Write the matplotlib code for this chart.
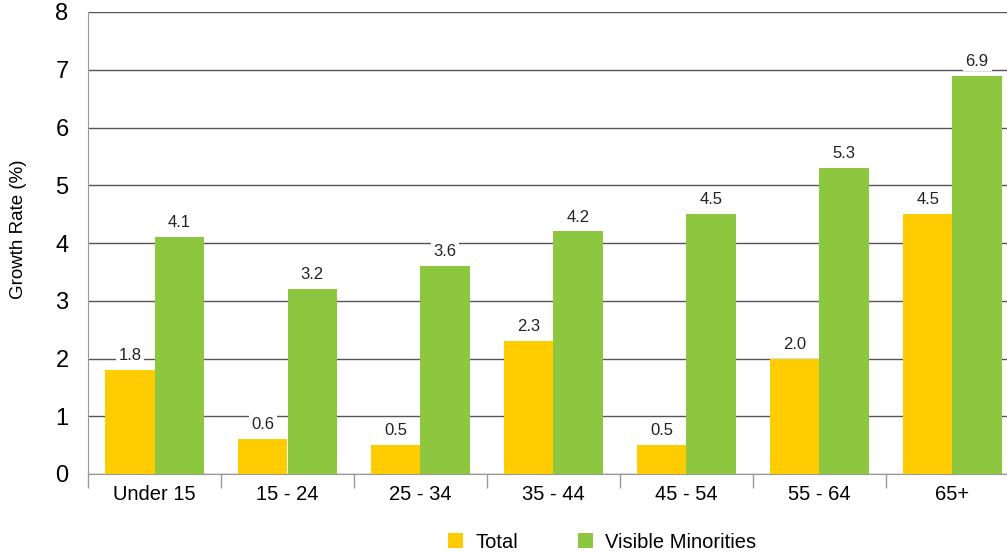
import matplotlib
matplotlib.use("Agg")
import matplotlib.pyplot as plt
import numpy as np

plt.rcParams['font.family'] = ['Liberation Sans', 'DejaVu Sans']

cats = ["Under 15", "15 - 24", "25 - 34", "35 - 44", "45 - 54", "55 - 64", "65+"]
total = [1.8, 0.6, 0.5, 2.3, 0.5, 2.0, 4.5]
vismin = [4.1, 3.2, 3.6, 4.2, 4.5, 5.3, 6.9]
c_tot, c_vm = "#ffcc00", "#8dc63f"

fig = plt.figure(figsize=(10.07, 5.52), dpi=100)
ax = fig.add_axes([88/1007, 1-474/552, 931/1007, 462/552])

x = np.arange(len(cats))
w = 0.37
ax.bar(x - w/2, total, w, color=c_tot, label="Total", zorder=3)
ax.bar(x + w/2, vismin, w, color=c_vm, label="Visible Minorities", zorder=3)

for xs, vals in ((x - w/2, total), (x + w/2, vismin)):
    for xi, v in zip(xs, vals):
        ax.text(xi, v + 0.12, f"{v:.1f}", ha='center', va='bottom', fontsize=12,
                color="#222222", zorder=4,
                bbox=dict(facecolor='white', edgecolor='none', pad=2))

ax.set_xlim(-0.5, len(cats) - 0.5)
ax.set_ylim(0, 8)
ax.set_yticks(range(9))
ax.tick_params(axis='y', length=0, labelsize=17, pad=14)
ax.yaxis.grid(True, color="#555555", linewidth=1.0, zorder=0)
ax.set_xticks(x)
ax.set_xticklabels(cats, fontsize=14.5)
ax.tick_params(axis='x', length=0, pad=8)
ax.set_xticks(np.arange(len(cats) + 1) - 0.5, minor=True)
ax.tick_params(axis='x', which='minor', length=10, color="#999999", width=1)
for s in ('top', 'right'):
    ax.spines[s].set_visible(False)
for s in ('left', 'bottom'):
    ax.spines[s].set_color("#999999")
ax.set_ylabel("Growth Rate (%)", fontsize=13.5)
ax.yaxis.set_label_coords(-0.065, 0.53)

fig.legend(*ax.get_legend_handles_labels(), loc='center', bbox_to_anchor=(0.598, 0.018),
           ncol=2, frameon=False, fontsize=14.5, handlelength=0.75, handleheight=0.75,
           columnspacing=3, handletextpad=0.6, borderpad=0)

fig.savefig("out.png", dpi=100)
